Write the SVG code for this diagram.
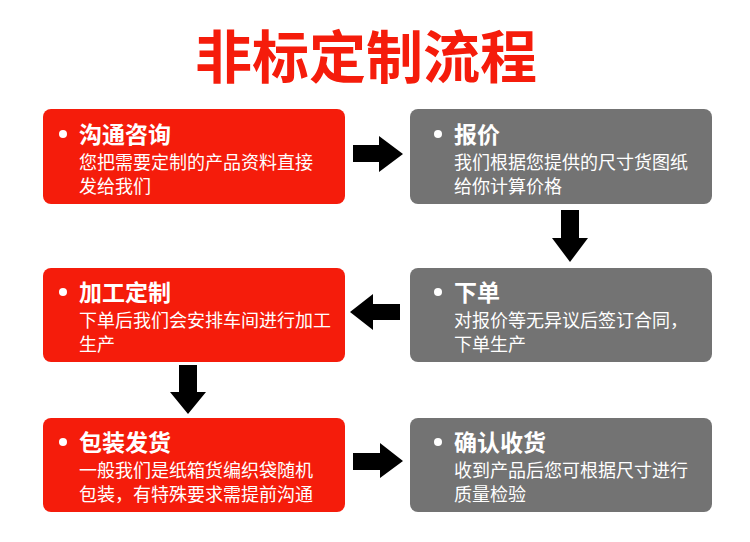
<svg xmlns="http://www.w3.org/2000/svg" width="750" height="542" viewBox="0 0 750 542">
<style>
.red{fill:#f51c0b}
.gray{fill:#737373}
.title{font-family:"Noto Sans CJK SC","Noto Sans",sans-serif;font-weight:bold;font-size:57px;fill:#f51c0b}
.h{font-family:"Noto Sans CJK SC","Noto Sans",sans-serif;font-weight:bold;font-size:23px;fill:#ffffff}
.b{font-family:"Noto Sans CJK SC","Noto Sans",sans-serif;font-size:18px;fill:#ffffff}
.dot{fill:#ffffff}
.arr{fill:#000000}
</style>
<rect width="750" height="542" fill="#ffffff"/>
<text class="title" x="366" y="78" text-anchor="middle">非标定制流程</text>
<g id="n1">
<rect class="red" x="43" y="109" width="302" height="95" rx="8"/>
<circle class="dot" cx="63" cy="134" r="4"/>
<text class="h" x="79" y="143">沟通咨询</text>
<text class="b" x="79" y="169">您把需要定制的产品资料直接</text>
<text class="b" x="79" y="193">发给我们</text>
</g>
<g id="n2">
<rect class="gray" x="410" y="109" width="302" height="95" rx="8"/>
<circle class="dot" cx="438" cy="134" r="4"/>
<text class="h" x="454" y="143">报价</text>
<text class="b" x="454" y="169">我们根据您提供的尺寸货图纸</text>
<text class="b" x="454" y="193">给你计算价格</text>
</g>
<g id="n3">
<rect class="gray" x="410" y="268" width="302" height="94" rx="8"/>
<circle class="dot" cx="438" cy="292" r="4"/>
<text class="h" x="454" y="301">下单</text>
<text class="b" x="454" y="327">对报价等无异议后签订合同，</text>
<text class="b" x="454" y="351">下单生产</text>
</g>
<g id="n4">
<rect class="red" x="43" y="268" width="302" height="94" rx="8"/>
<circle class="dot" cx="63" cy="292" r="4"/>
<text class="h" x="79" y="301">加工定制</text>
<text class="b" x="79" y="327">下单后我们会安排车间进行加工</text>
<text class="b" x="79" y="351">生产</text>
</g>
<g id="n5">
<rect class="red" x="43" y="418" width="302" height="94" rx="8"/>
<circle class="dot" cx="63" cy="442" r="4"/>
<text class="h" x="79" y="451">包装发货</text>
<text class="b" x="79" y="477">一般我们是纸箱货编织袋随机</text>
<text class="b" x="79" y="501">包装，有特殊要求需提前沟通</text>
</g>
<g id="n6">
<rect class="gray" x="410" y="418" width="302" height="94" rx="8"/>
<circle class="dot" cx="438" cy="442" r="4"/>
<text class="h" x="454" y="451">确认收货</text>
<text class="b" x="454" y="477">收到产品后您可根据尺寸进行</text>
<text class="b" x="454" y="501">质量检验</text>
</g>
<g id="connectors">
<polygon class="arr" points="353,145 379,145 379,136 403,154 379,172 379,162 353,162"/>
<polygon class="arr" points="561,210 579,210 579,238 588,238 570,262 552,238 561,238"/>
<polygon class="arr" points="400,304 373,304 373,294 350,312 373,330 373,320 400,320"/>
<polygon class="arr" points="179,365 197,365 197,392 206,392 188,414 170,392 179,392"/>
<polygon class="arr" points="353,453 380,453 380,443 403,461 380,478 380,470 353,470"/>
</g>
</svg>
